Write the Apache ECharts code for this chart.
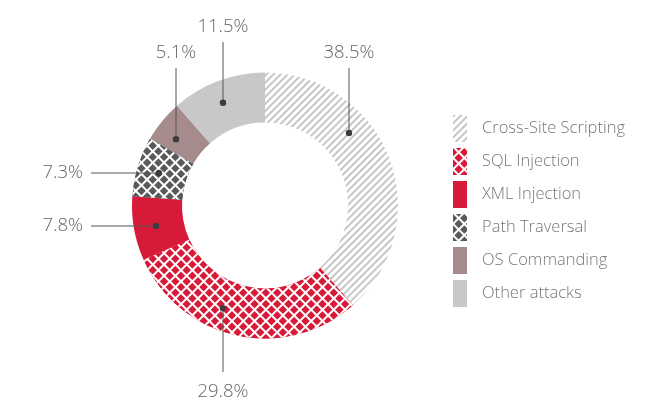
<!DOCTYPE html>
<html>
<head>
<meta charset="utf-8">
<script src="https://cdn.jsdelivr.net/npm/echarts@6/dist/echarts.min.js"></script>
<style>
  html, body { margin: 0; padding: 0; background: #fff; }
  #main { width: 670px; height: 417px; }
</style>
</head>
<body>
<div id="main"></div>
<script>
// 数据
const categories = ['Cross-Site Scripting', 'SQL Injection', 'XML Injection', 'Path Traversal', 'OS Commanding', 'Other attacks'];
const values = [38.5, 29.8, 7.8, 7.3, 5.1, 11.5];

// 标签位置 [x, y, 方向]  v=竖线 h=横线
const labelPos = [
  [349, 53, 'v'],
  [223, 392, 'v'],
  [83, 226, 'h'],
  [83, 173, 'h'],
  [176, 53, 'v'],
  [223, 27, 'v']
];

const cx = 265, cy = 205.5, rIn = 83, rOut = 133, rDot = 111;

const stripe = {
  symbol: 'rect', symbolSize: 1, color: '#c6c6c6', backgroundColor: '#fff',
  dashArrayX: [1, 0], dashArrayY: [1.1, 2.2], rotation: -Math.PI / 4
};
function grid(c) {
  return {
    symbol: 'rect', symbolSize: 1, color: c, backgroundColor: '#fff',
    dashArrayX: [5.2, 1.1], dashArrayY: [5.2, 1.1], rotation: Math.PI / 4
  };
}
const itemStyles = [
  { color: '#fff', decal: stripe },
  { color: '#d71a38', decal: grid('#d71a38') },
  { color: '#d71a38' },
  { color: '#58595b', decal: grid('#58595b') },
  { color: '#a58b8c' },
  { color: '#c8c8ca' }
];

// 计算圆点和引线
function dotOf(i) {
  let p = labelPos[i];
  if (p[2] === 'v') {
    let dx = p[0] - cx, d = Math.sqrt(rDot * rDot - dx * dx);
    return [p[0], p[1] < cy ? cy - d : cy + d];
  }
  let dy = p[1] - cy, d = Math.sqrt(rDot * rDot - dy * dy);
  return [p[0] < cx ? cx - d : cx + d, p[1]];
}
function lineOf(i) {
  let p = labelPos[i], dot = dotOf(i), start;
  if (p[2] === 'v') {
    start = [p[0], p[1] < cy ? p[1] + 15 : p[1] - 20];
  } else {
    start = [p[0] + 8, p[1]];
  }
  return [start, dot];
}

let data = categories.map((name, i) => ({ name: name, value: values[i], itemStyle: itemStyles[i] }));

let graphics = [];
categories.forEach((c, i) => {
  let d = dotOf(i);
  graphics.push({
    type: 'polyline', z: 100, silent: true,
    shape: { points: lineOf(i) },
    style: { stroke: '#555', lineWidth: 1, fill: null }
  });
  graphics.push({
    type: 'circle', z: 101, silent: true,
    shape: { cx: d[0], cy: d[1], r: 3.2 },
    style: { fill: '#3d3d3f' }
  });
});

let chart = echarts.init(document.getElementById('main'));
let option = {
  backgroundColor: '#fff',
  animation: false,
  legend: {
    orient: 'vertical',
    left: 448,
    top: 110,
    itemWidth: 14,
    itemHeight: 27,
    itemGap: 6,
    icon: 'rect',
    selectedMode: false,
    data: categories,
    textStyle: {
      fontFamily: 'Open Sans',
      fontWeight: 300,
      fontSize: 16.5,
      color: '#777',
      padding: [0, 0, 0, 10]
    }
  },
  graphic: graphics,
  series: [
    {
      type: 'pie',
      center: [cx, cy],
      radius: [rIn, rOut],
      startAngle: 90,
      clockwise: true,
      data: data,
      label: {
        show: true,
        position: 'outside',
        formatter: '{c}%',
        fontFamily: 'Open Sans',
        fontWeight: 300,
        fontSize: 18.5,
        color: '#666'
      },
      labelLine: { show: false },
      labelLayout: function (params) {
        let p = labelPos[params.dataIndex];
        return {
          x: p[0],
          y: p[1],
          align: p[2] === 'h' ? 'right' : 'center',
          verticalAlign: 'middle'
        };
      },
      emphasis: { disabled: true }
    }
  ]
};
chart.setOption(option);
</script>
</body>
</html>
